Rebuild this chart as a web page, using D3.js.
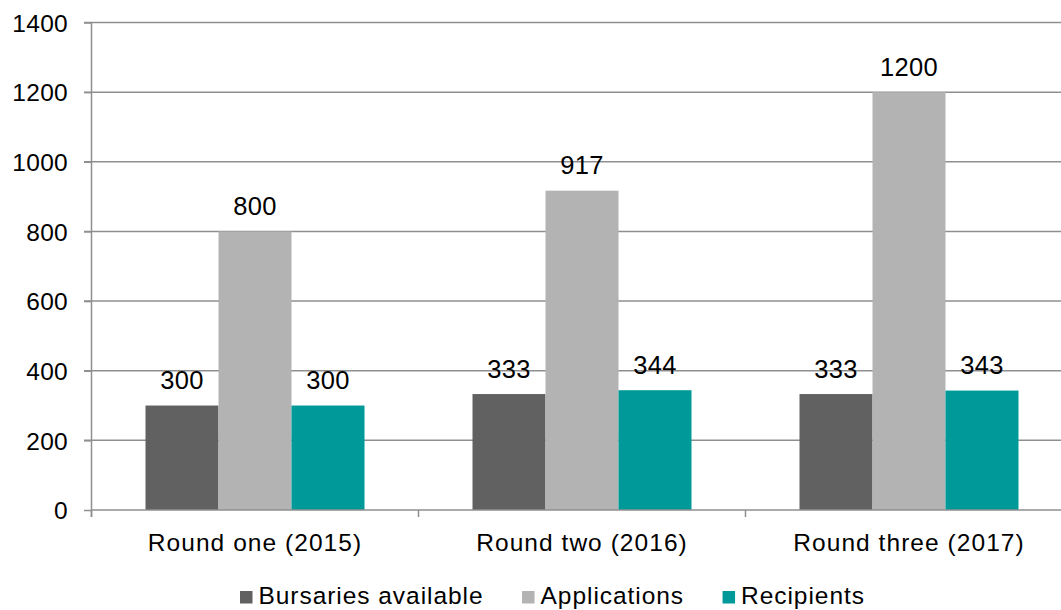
<!DOCTYPE html>
<html>
<head>
<meta charset="utf-8">
<script src="https://cdn.jsdelivr.net/npm/d3@7"></script>
<style>
  body { margin: 0; background: #fff; }
  text { font-family: Arial, "Liberation Sans", sans-serif; fill: #000; }
</style>
</head>
<body>
<script>
// data
var rounds = ["Round one (2015)", "Round two (2016)", "Round three (2017)"];
var series = ["Bursaries available", "Applications", "Recipients"];
var bursaries = [300, 333, 333];
var applications = [800, 917, 1200];
var recipients = [300, 344, 343];
var yTicks = [0, 200, 400, 600, 800, 1000, 1200, 1400];
var colors = ["#616161", "#b3b3b3", "#009999"];

var values = [bursaries, applications, recipients];

var svg = d3.select("body").append("svg")
    .attr("width", 1061)
    .attr("height", 610);

// scales
var x0 = d3.scaleBand().domain(rounds).range([91.5, 1072.5]).padding(0);
var x1 = d3.scaleBand().domain(series).range([54, 273]).padding(0);
var y = d3.scaleLinear().domain([0, 1400]).range([510, 22.5]);

// gridlines
svg.append("g").selectAll("line")
    .data(yTicks.filter(d => d > 0))
    .enter().append("line")
    .attr("x1", 84).attr("x2", 1061)
    .attr("y1", d => y(d)).attr("y2", d => y(d))
    .style("stroke", "#8f8f8f")
    .style("stroke-width", 1.5);

// bars
var groups = svg.append("g").selectAll("g")
    .data(rounds)
    .enter().append("g")
    .attr("transform", d => "translate(" + x0(d) + ",0)");

groups.selectAll("rect")
    .data((d, i) => series.map((s, j) => ({ s: s, v: values[j][i], c: colors[j] })))
    .enter().append("rect")
    .attr("x", d => x1(d.s))
    .attr("y", d => y(d.v))
    .attr("width", x1.bandwidth())
    .attr("height", d => y(0) - y(d.v))
    .style("fill", d => d.c);

// value labels
groups.selectAll("text")
    .data((d, i) => series.map((s, j) => ({ s: s, v: values[j][i] })))
    .enter().append("text")
    .attr("x", d => x1(d.s) + x1.bandwidth() / 2)
    .attr("y", d => y(d.v) - 16.5)
    .attr("text-anchor", "middle")
    .attr("font-size", "25.5px")
    .attr("letter-spacing", "0.3px")
    .text(d => d.v);

// y axis
var yAxis = svg.append("g").attr("transform", "translate(91.5,0)")
    .call(d3.axisLeft(y).tickValues(yTicks).tickFormat(d3.format("d")).tickSize(7.5).tickPadding(16));
yAxis.select(".domain").attr("d", "M0," + y(1400) + "V517").style("stroke", "#8f8f8f").style("stroke-width", 1.5);
yAxis.selectAll(".tick line").style("stroke", "#8f8f8f").style("stroke-width", 1.5);
yAxis.selectAll(".tick text")
    .attr("font-size", "24.5px")
    .attr("font-family", null)
    .attr("letter-spacing", "0.3px")
    .attr("fill", "#000")
    .attr("dy", "0.36em");

// x axis
var xAxis = svg.append("g").attr("transform", "translate(0,510)")
    .call(d3.axisBottom(x0).tickSize(0).tickPadding(0));
xAxis.select(".domain").attr("d", "M91.5,0H1061").style("stroke", "#8f8f8f").style("stroke-width", 1.5);
xAxis.selectAll(".tick text")
    .attr("font-size", "24.5px")
    .attr("font-family", null)
    .attr("letter-spacing", "1.05px")
    .attr("fill", "#000")
    .attr("y", 41)
    .attr("dy", 0);
// category separators
svg.append("g").selectAll("line")
    .data(rounds)
    .enter().append("line")
    .attr("x1", d => x0(d)).attr("x2", d => x0(d))
    .attr("y1", 510).attr("y2", 517)
    .style("stroke", "#8f8f8f")
    .style("stroke-width", 1.5);

// legend
var legend = svg.append("g").attr("class", "legend");
var lx = 240;
series.forEach(function(s, i) {
  legend.append("rect")
    .attr("x", lx).attr("y", 591)
    .attr("width", 12.5).attr("height", 12.5)
    .style("fill", colors[i]);
  var t = legend.append("text")
    .attr("x", lx + 18.5).attr("y", 604)
    .attr("font-size", "24.5px")
    .attr("letter-spacing", "0.95px")
    .text(s);
  lx = lx + 18.5 + t.node().getComputedTextLength() + 38.5;
});
</script>
</body>
</html>
